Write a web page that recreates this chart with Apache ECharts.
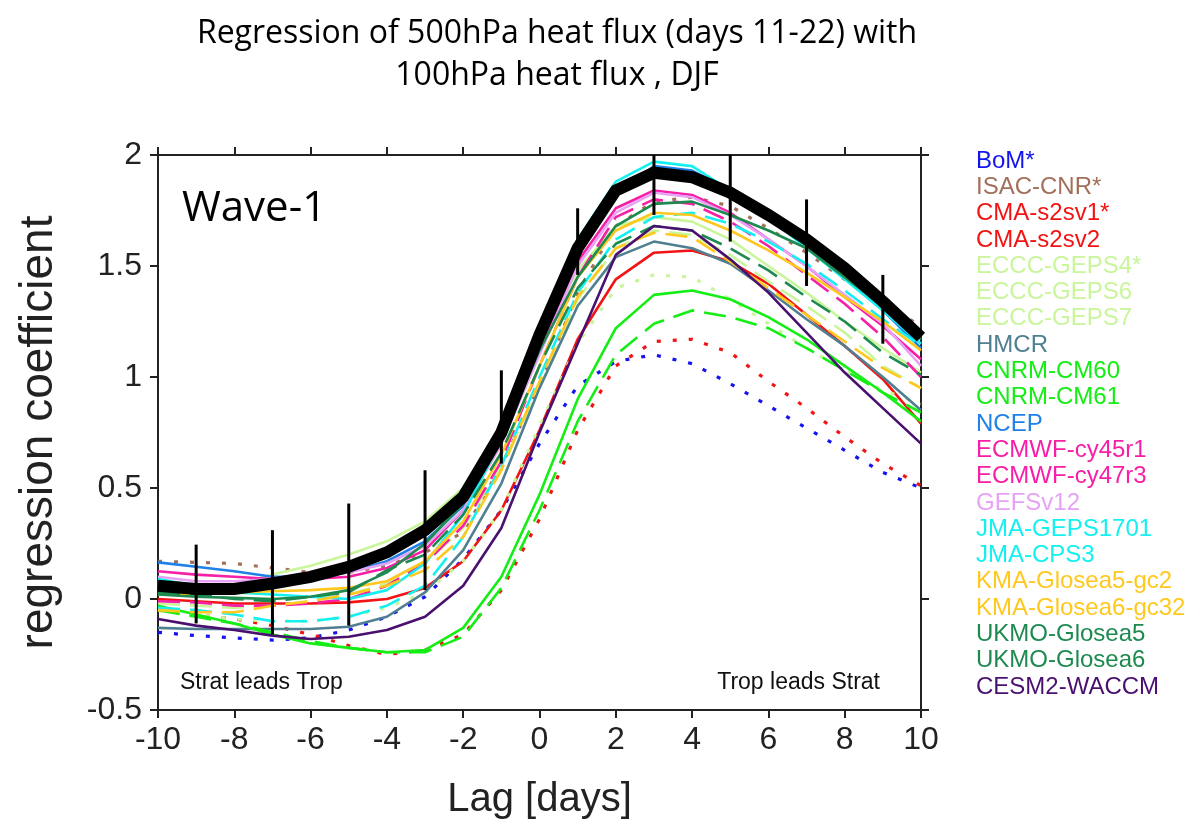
<!DOCTYPE html>
<html>
<head>
<meta charset="utf-8">
<script src="https://cdn.jsdelivr.net/npm/echarts@6/dist/echarts.min.js"></script>
<style>
html,body{margin:0;padding:0;background:#fff;}
#chart{width:1188px;height:825px;}
</style>
</head>
<body>
<div id="chart"></div>
<script>
// ---- data ----
const lags = [-10,-9,-8,-7,-6,-5,-4,-3,-2,-1,0,1,2,3,4,5,6,7,8,9,10];
const xTicks = [-10,-8,-6,-4,-2,0,2,4,6,8,10];
const yTicks = [-0.5,0,0.5,1,1.5,2];

const obs = [0.06,0.045,0.045,0.07,0.10,0.145,0.21,0.31,0.46,0.75,1.19,1.58,1.84,1.92,1.90,1.83,1.73,1.62,1.49,1.34,1.18];
const errLags = [-9,-7,-5,-3,-1,1,3,5,7,9];
const errLow  = [-0.11,-0.16,-0.12,0.04,0.61,1.46,1.73,1.61,1.41,1.15];
const errHigh = [0.245,0.31,0.43,0.58,1.03,1.76,2.0,2.0,1.80,1.46];

const bom      = [-0.15,-0.165,-0.175,-0.185,-0.175,-0.14,-0.08,0.01,0.18,0.40,0.70,0.96,1.07,1.10,1.06,0.97,0.87,0.77,0.67,0.57,0.50];
const isac     = [0.17,0.165,0.16,0.14,0.12,0.12,0.15,0.21,0.30,0.60,0.96,1.38,1.68,1.79,1.81,1.77,1.67,1.56,1.44,1.33,1.23];
const cmaV1    = [-0.05,-0.07,-0.09,-0.12,-0.16,-0.21,-0.25,-0.23,-0.16,0.04,0.36,0.76,1.05,1.16,1.17,1.11,0.98,0.86,0.73,0.61,0.51];
const cmaV2    = [0.0,-0.01,-0.02,-0.02,-0.02,-0.015,0.0,0.05,0.17,0.40,0.76,1.17,1.44,1.56,1.57,1.52,1.42,1.28,1.14,0.99,0.79];
const geps4    = [-0.05,-0.07,-0.09,-0.10,-0.10,-0.08,-0.04,0.03,0.17,0.40,0.78,1.15,1.40,1.46,1.45,1.35,1.24,1.13,1.03,0.94,0.88];
const geps6    = [-0.02,-0.03,-0.04,-0.03,-0.01,0.02,0.07,0.16,0.32,0.60,0.95,1.35,1.58,1.66,1.64,1.55,1.43,1.32,1.20,1.05,0.95];
const geps7    = [0.02,0.03,0.06,0.11,0.15,0.20,0.26,0.35,0.50,0.78,1.15,1.48,1.68,1.72,1.70,1.62,1.50,1.38,1.25,1.13,1.02];
const hmcr     = [-0.13,-0.135,-0.135,-0.135,-0.135,-0.125,-0.08,0.03,0.22,0.52,0.95,1.32,1.54,1.61,1.58,1.51,1.39,1.26,1.14,1.00,0.85];
const cnrm60   = [-0.05,-0.08,-0.11,-0.15,-0.19,-0.22,-0.24,-0.24,-0.17,0.05,0.40,0.80,1.10,1.24,1.30,1.27,1.22,1.13,1.03,0.93,0.84];
const cnrm61   = [-0.03,-0.07,-0.11,-0.16,-0.20,-0.22,-0.24,-0.23,-0.13,0.10,0.47,0.90,1.22,1.37,1.39,1.35,1.27,1.17,1.05,0.93,0.80];
const ncep     = [0.165,0.145,0.125,0.10,0.10,0.12,0.17,0.26,0.42,0.72,1.15,1.55,1.82,1.95,1.93,1.84,1.73,1.60,1.46,1.30,1.13];
const ec45     = [-0.01,-0.015,-0.03,-0.03,-0.02,0.0,0.06,0.16,0.33,0.62,1.05,1.45,1.72,1.80,1.78,1.70,1.59,1.46,1.33,1.18,1.00];
const ec47     = [0.125,0.11,0.10,0.09,0.09,0.10,0.14,0.22,0.40,0.70,1.12,1.52,1.76,1.84,1.82,1.74,1.62,1.50,1.36,1.23,1.08];
const gefs     = [0.10,0.08,0.08,0.09,0.10,0.12,0.16,0.24,0.40,0.70,1.10,1.50,1.74,1.83,1.81,1.73,1.62,1.50,1.37,1.24,1.05];
const jmaGeps  = [-0.04,-0.05,-0.07,-0.10,-0.10,-0.08,-0.03,0.06,0.28,0.60,1.00,1.38,1.62,1.72,1.74,1.69,1.61,1.51,1.39,1.26,1.14];
const jmaCps   = [0.09,0.06,0.03,0.02,0.01,0.0,0.04,0.16,0.38,0.72,1.20,1.62,1.88,1.97,1.95,1.84,1.72,1.58,1.44,1.30,1.15];
const kma5     = [-0.05,-0.06,-0.06,-0.03,-0.01,0.02,0.06,0.13,0.28,0.58,0.98,1.36,1.58,1.65,1.63,1.52,1.40,1.28,1.16,1.04,0.95];
const kma6     = [0.02,0.02,0.03,0.035,0.04,0.05,0.08,0.17,0.35,0.65,1.05,1.45,1.66,1.74,1.73,1.66,1.57,1.47,1.36,1.25,1.12];
const ukmo5    = [0.03,0.02,0.0,-0.01,0.01,0.03,0.13,0.20,0.38,0.66,1.05,1.40,1.60,1.68,1.66,1.58,1.48,1.36,1.25,1.11,1.01];
const ukmo6    = [0.02,0.01,0.005,0.0,0.01,0.04,0.12,0.25,0.43,0.72,1.12,1.45,1.68,1.78,1.79,1.73,1.66,1.58,1.45,1.32,1.17];
const cesm     = [-0.09,-0.12,-0.14,-0.165,-0.18,-0.17,-0.14,-0.08,0.06,0.32,0.75,1.15,1.55,1.68,1.66,1.53,1.38,1.20,1.02,0.86,0.70];

const modelNames = ['BoM*','ISAC-CNR*','CMA-s2sv1*','CMA-s2sv2','ECCC-GEPS4*','ECCC-GEPS6','ECCC-GEPS7','HMCR','CNRM-CM60','CNRM-CM61','NCEP','ECMWF-cy45r1','ECMWF-cy47r3','GEFSv12','JMA-GEPS1701','JMA-CPS3','KMA-Glosea5-gc2','KMA-Glosea6-gc32','UKMO-Glosea5','UKMO-Glosea6','CESM2-WACCM'];
const modelValues = [bom,isac,cmaV1,cmaV2,geps4,geps6,geps7,hmcr,cnrm60,cnrm61,ncep,ec45,ec47,gefs,jmaGeps,jmaCps,kma5,kma6,ukmo5,ukmo6,cesm];

// ---- styles ----
const modelColors = ['#1414EE','#A2705A','#F21414','#F21414','#C9F59B','#C9F59B','#C9F59B','#4F7F91','#14EE14','#14EE14','#1E80E8','#F71FA6','#F71FA6','#E6A2F5','#14F0F0','#14F0F0','#FFC81E','#FFC81E','#1E8A50','#1E8A50','#4A1070'];
const DOT = [4,12], DASH = [22,10];
const modelDash = [DOT,DOT,DOT,'solid',DOT,DASH,'solid','solid',DASH,'solid','solid',DASH,'solid','solid',DASH,'solid',DASH,'solid',DASH,'solid','solid'];

const series = modelNames.map((n,i)=>({
  name:n, type:'line', symbol:'none', animation:false,
  data: lags.map((x,j)=>[x, modelValues[i][j]]),
  lineStyle:{color:modelColors[i], width: modelDash[i]===DOT?3.2:2.6, type:modelDash[i]},
  itemStyle:{color:modelColors[i]}, z:2
}));
series.push({
  name:'obs', type:'line', symbol:'none', animation:false,
  data: lags.map((x,j)=>[x, obs[j]]),
  lineStyle:{color:'#000', width:12, join:'miter'}, z:3
});
series.push({
  name:'err', type:'custom', animation:false, z:4,
  data: errLags.map((x,j)=>[x, errLow[j], errHigh[j]]),
  renderItem:function(params, api){
    const p1 = api.coord([api.value(0), api.value(1)]);
    const p2 = api.coord([api.value(0), api.value(2)]);
    return {type:'line', shape:{x1:p1[0],y1:p1[1],x2:p2[0],y2:p2[1]}, style:{stroke:'#000', lineWidth:3}};
  }
});

const axisLine = {show:true, onZero:false, lineStyle:{color:'#222', width:2}};
const axisTick = {show:true, inside:false, length:8, lineStyle:{color:'#222', width:2}};
const FONT = 'Liberation Sans, Arial, sans-serif';

const chart = echarts.init(document.getElementById('chart'), null, {renderer:'canvas'});
chart.setOption({
  backgroundColor:'#fff',
  animation:false,
  title:{
    text:'Regression of 500hPa heat flux (days 11-22) with\n100hPa heat flux , DJF',
    left:552, top:8, textAlign:'center',
    textStyle:{fontFamily:'Open Sans', fontWeight:'normal', fontSize:32, lineHeight:42, color:'#000'}
  },
  grid:{left:158, right:267, top:155, bottom:114, containLabel:false},
  legend:{
    orient:'vertical', left:966, top:144, itemWidth:0, itemHeight:10, itemGap:2.3,
    selectedMode:false, icon:'rect',
    data: modelNames.map((n,i)=>({name:n, textStyle:{color:modelColors[i]}})),
    textStyle:{fontFamily:FONT, fontSize:24, lineHeight:24, padding:[0,0,0,0]}
  },
  xAxis:[
    {type:'value', position:'bottom', min:xTicks[0], max:xTicks[xTicks.length-1], interval:2,
     axisLine, axisTick, splitLine:{show:false},
     axisLabel:{fontFamily:FONT, fontSize:32, color:'#222', margin:14},
     name:'Lag [days]', nameLocation:'middle', nameGap:70,
     nameTextStyle:{fontFamily:FONT, fontSize:40, color:'#222'}},
    {type:'value', position:'top', min:xTicks[0], max:xTicks[xTicks.length-1], interval:2,
     axisLine, axisTick, splitLine:{show:false}, axisLabel:{show:false}}
  ],
  yAxis:[
    {type:'value', position:'left', min:yTicks[0], max:yTicks[yTicks.length-1], interval:0.5,
     axisLine, axisTick, splitLine:{show:false},
     axisLabel:{fontFamily:FONT, fontSize:32, color:'#222', margin:16},
     name:'regression coefficient', nameLocation:'middle', nameGap:96, nameRotate:90,
     nameTextStyle:{fontFamily:FONT, fontSize:46, color:'#222'}},
    {type:'value', position:'right', min:yTicks[0], max:yTicks[yTicks.length-1], interval:0.5,
     axisLine, axisTick, splitLine:{show:false}, axisLabel:{show:false}}
  ],
  graphic:[
    {type:'text', left:182, top:188, style:{text:'Wave-1', fontFamily:'Open Sans', fontSize:42, fill:'#000'}},
    {type:'text', left:180, top:671, style:{text:'Strat leads Trop', fontFamily:FONT, fontSize:23, fill:'#111'}},
    {type:'text', right:308, top:671, style:{text:'Trop leads Strat', fontFamily:FONT, fontSize:23, fill:'#111'}}
  ],
  series
});
</script>
</body>
</html>
